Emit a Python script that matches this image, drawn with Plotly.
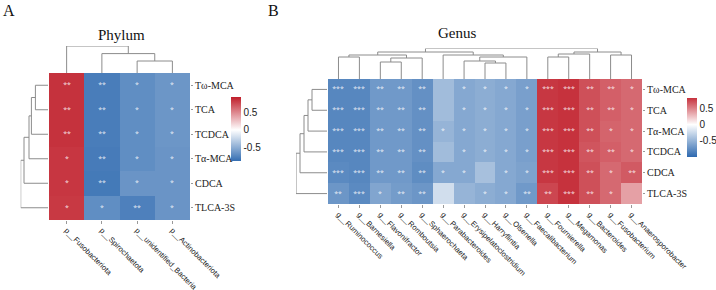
import plotly.graph_objects as go

W, H = 716, 290

# ---------------- data ----------------
phylum_rows = ["Tω-MCA", "TCA", "TCDCA", "Tα-MCA", "CDCA", "TLCA-3S"]
phylum_cols = ["p__Fusobacteriota", "p__Spirochaetota", "p__unidentified_Bacteria", "p__Actinobacteriota"]
phylum_vals = [
    [0.84, -0.78, -0.68, -0.63],
    [0.84, -0.78, -0.68, -0.63],
    [0.84, -0.78, -0.68, -0.63],
    [0.82, -0.79, -0.68, -0.64],
    [0.82, -0.80, -0.64, -0.64],
    [0.81, -0.68, -0.76, -0.64],
]
phylum_stars = [
    ["**", "**", "*", "*"],
    ["**", "**", "*", "*"],
    ["**", "**", "*", "*"],
    ["*", "**", "*", "*"],
    ["*", "**", "*", "*"],
    ["*", "*", "**", "*"],
]
# linkage: (left, right, height)  leaves 0..n-1, new clusters n, n+1, ...
phylum_col_link = [(2, 3, 12.0), (1, 4, 19.4), (0, 5, 27.0)]
phylum_row_link = [(0, 1, 12.6), (6, 2, 16.6), (7, 3, 19.0), (8, 4, 24.0), (9, 5, 27.3)]

genus_rows = ["Tω-MCA", "TCA", "Tα-MCA", "TCDCA", "CDCA", "TLCA-3S"]
genus_cols = ["g__Ruminococcus", "g__Barnesiella", "g__Flavonifractor", "g__Romboutsia",
              "g__Sphaerochaeta", "g__Parabacteroides", "g__Erysipelatoclostridium",
              "g__Harryflintia", "g__Olsenella", "g__Faecalibacterium", "g__Fournierella",
              "g__Megamonas", "g__Bacteroides", "g__Fusobacterium", "g__Anaerosporobacter"]
genus_vals = [
    [-0.80, -0.80, -0.68, -0.68, -0.74, -0.45, -0.58, -0.55, -0.58, -0.64, 0.80, 0.82, 0.70, 0.64, 0.60],
    [-0.80, -0.80, -0.68, -0.68, -0.74, -0.45, -0.58, -0.55, -0.58, -0.64, 0.80, 0.82, 0.70, 0.64, 0.60],
    [-0.80, -0.80, -0.68, -0.68, -0.74, -0.50, -0.58, -0.55, -0.58, -0.64, 0.80, 0.82, 0.70, 0.62, 0.60],
    [-0.80, -0.80, -0.68, -0.68, -0.74, -0.45, -0.58, -0.55, -0.58, -0.64, 0.80, 0.82, 0.68, 0.64, 0.60],
    [-0.78, -0.80, -0.68, -0.68, -0.76, -0.58, -0.58, -0.42, -0.58, -0.62, 0.80, 0.82, 0.70, 0.60, 0.66],
    [-0.70, -0.78, -0.60, -0.66, -0.70, -0.22, -0.50, -0.55, -0.58, -0.68, 0.74, 0.82, 0.70, 0.60, 0.38],
]
genus_stars = [
    ["***", "***", "**", "**", "**", "", "*", "*", "*", "*", "***", "***", "**", "**", "*"],
    ["***", "***", "**", "**", "**", "", "*", "*", "*", "*", "***", "***", "**", "**", "*"],
    ["***", "***", "**", "**", "**", "*", "*", "*", "*", "*", "***", "***", "**", "*", "*"],
    ["***", "***", "**", "**", "**", "", "*", "*", "*", "*", "***", "***", "**", "**", "*"],
    ["***", "***", "**", "**", "**", "*", "*", "", "*", "*", "***", "***", "**", "*", "**"],
    ["**", "***", "*", "**", "**", "", "", "*", "*", "**", "**", "***", "**", "*", ""],
]
genus_col_link = [(0, 1, 22.0), (2, 3, 17.0), (16, 4, 21.0), (15, 17, 24.0),
                  (7, 8, 16.0), (6, 19, 18.0), (20, 9, 22.0), (5, 21, 24.0),
                  (18, 22, 27.0), (10, 11, 22.0), (24, 12, 25.0), (13, 14, 24.0),
                  (25, 26, 27.0), (23, 27, 30.5)]
genus_row_link = [(0, 1, 15.0), (6, 2, 19.0), (7, 3, 23.0), (8, 4, 27.0), (9, 5, 31.0)]

phylum_range = (-0.87, 0.92)
genus_range = (-1.0, 0.82)
tick_vals = [-0.5, 0, 0.5]
tick_text = ["-0.5", "0", "0.5"]

# ---------------- helpers ----------------
BLUE = (45, 105, 175)
RED = (192, 30, 42)
WHITE = (255, 255, 255)


def lerp(c1, c2, t):
    t = max(0.0, min(1.0, t))
    return "rgb(%d,%d,%d)" % tuple(round(a + (b - a) * t) for a, b in zip(c1, c2))


def make_scale(cmin, cmax, full=0.9):
    w = -cmin / (cmax - cmin)
    return [[0, lerp(WHITE, BLUE, -cmin / full)], [w, "rgb(255,255,255)"],
            [1, lerp(WHITE, RED, cmax / full)]]


def dendro(n, link):
    pos = {i: float(i) for i in range(n)}
    hgt = {i: 0.0 for i in range(n)}
    xs, ys = [], []
    for k, (a, b, h) in enumerate(link):
        xa, xb = pos[a], pos[b]
        xs += [xa, xa, xb, xb, None]
        ys += [hgt[a], h, h, hgt[b], None]
        pos[n + k] = (xa + xb) / 2
        hgt[n + k] = h
    return xs, ys


def px(x):
    return x / W


def py(y):
    return 1 - y / H


fig = go.Figure()
LINE = dict(color="#8c8c8c", width=1)
SERIF = "Liberation Serif"
SANS = "Liberation Sans"


def panel(rows, cols, vals, stars, col_link, row_link, rng, ax, box, cb):
    # box = (left, top, right, bottom) of heatmap in px
    L, T, R, B = box
    n_r, n_c = len(rows), len(cols)
    a1, a2, a3 = ax
    fig.add_trace(go.Heatmap(
        z=vals, x=list(range(n_c)), y=list(range(n_r)), text=stars,
        texttemplate="%{text}", textfont=dict(size=7, color="rgba(255,255,255,0.85)"),
        coloraxis=cb, xaxis="x" + a1, yaxis="y" + a1, hoverinfo="skip"))
    cx, cy = dendro(n_c, col_link)
    fig.add_trace(go.Scatter(x=cx, y=cy, mode="lines", line=LINE, xaxis="x" + a2,
                             yaxis="y" + a2, showlegend=False, hoverinfo="skip"))
    rx, ry = dendro(n_r, row_link)
    fig.add_trace(go.Scatter(x=ry, y=rx, mode="lines", line=LINE, xaxis="x" + a3,
                             yaxis="y" + a3, showlegend=False, hoverinfo="skip"))
    ch = max(h for _, _, h in col_link)
    rh = max(h for _, _, h in row_link)
    base = dict(showgrid=False, zeroline=False, showline=False)
    k = lambda s: s if s != "1" else ""
    fig.layout["xaxis" + k(a1)] = dict(base, domain=[px(L), px(R)], range=[-0.5, n_c - 0.5],
                                      anchor="y" + k(a1), tickmode="array", tickvals=list(range(n_c)),
                                      ticktext=cols, tickangle=45, ticks="outside", ticklen=3,
                                      tickcolor="#999", automargin=False, ticklabelstandoff=-1,
                                      tickfont=dict(family=SANS, size=7.6, color="#222"))
    fig.layout["yaxis" + k(a1)] = dict(base, domain=[py(B), py(T)], range=[n_r - 0.5, -0.5],
                                      anchor="x" + k(a1), side="right", tickmode="array",
                                      tickvals=list(range(n_r)), ticktext=rows, ticks="outside",
                                      ticklen=2, tickcolor="#999", automargin=False,
                                      tickfont=dict(family=SERIF, size=10, color="#222"))
    fig.layout["xaxis" + a2] = dict(base, domain=[px(L), px(R)], range=[-0.5, n_c - 0.5],
                                    anchor="y" + a2, showticklabels=False)
    fig.layout["yaxis" + a2] = dict(base, domain=[py(T), py(T - ch)], range=[0, ch],
                                    anchor="x" + a2, showticklabels=False)
    fig.layout["xaxis" + a3] = dict(base, domain=[px(L - rh - 1), px(L - 1)], range=[rh, 0],
                                    anchor="y" + a3, showticklabels=False)
    fig.layout["yaxis" + a3] = dict(base, domain=[py(B), py(T)], range=[n_r - 0.5, -0.5],
                                    anchor="x" + a3, showticklabels=False)


panel(phylum_rows, phylum_cols, phylum_vals, phylum_stars, phylum_col_link, phylum_row_link,
      phylum_range, ("1", "2", "3"), (49, 73, 190, 220), "coloraxis")
panel(genus_rows, genus_cols, genus_vals, genus_stars, genus_col_link, genus_row_link,
      genus_range, ("4", "5", "6"), (328, 79, 642, 204), "coloraxis2")


def cbar(x, yc, ln):
    return dict(x=px(x), xanchor="left", xpad=0, y=py(yc), yanchor="middle", ypad=0,
                len=ln, lenmode="pixels", thickness=10, thicknessmode="pixels",
                outlinewidth=0, tickvals=tick_vals, ticktext=tick_text, ticks="",
                tickfont=dict(family=SANS, size=10, color="#222"))


fig.update_layout(
    width=W, height=H, margin=dict(l=0, r=0, t=0, b=0, autoexpand=False),
    paper_bgcolor="white", plot_bgcolor="white", showlegend=False,
    coloraxis=dict(cmin=phylum_range[0], cmax=phylum_range[1],
                   colorscale=make_scale(*phylum_range), colorbar=cbar(231, 129, 64)),
    coloraxis2=dict(cmin=genus_range[0], cmax=genus_range[1],
                    colorscale=make_scale(*genus_range), colorbar=cbar(687, 127.5, 59)),
    annotations=[
        dict(text="Phylum", x=px(121), y=py(35), xref="paper", yref="paper", showarrow=False,
             font=dict(family=SERIF, size=15, color="#111"), xanchor="center", yanchor="middle"),
        dict(text="Genus", x=px(457), y=py(33), xref="paper", yref="paper", showarrow=False,
             font=dict(family=SERIF, size=15, color="#111"), xanchor="center", yanchor="middle"),
        dict(text="A", x=px(9), y=py(11), xref="paper", yref="paper", showarrow=False,
             font=dict(family=SERIF, size=16, color="#111"), xanchor="center", yanchor="middle"),
        dict(text="B", x=px(273), y=py(11), xref="paper", yref="paper", showarrow=False,
             font=dict(family=SERIF, size=16, color="#111"), xanchor="center", yanchor="middle"),
    ],
)

fig.write_html("out.html", config={"displayModeBar": False},
               post_script="document.body.style.margin='0';document.body.style.overflow='hidden';")
